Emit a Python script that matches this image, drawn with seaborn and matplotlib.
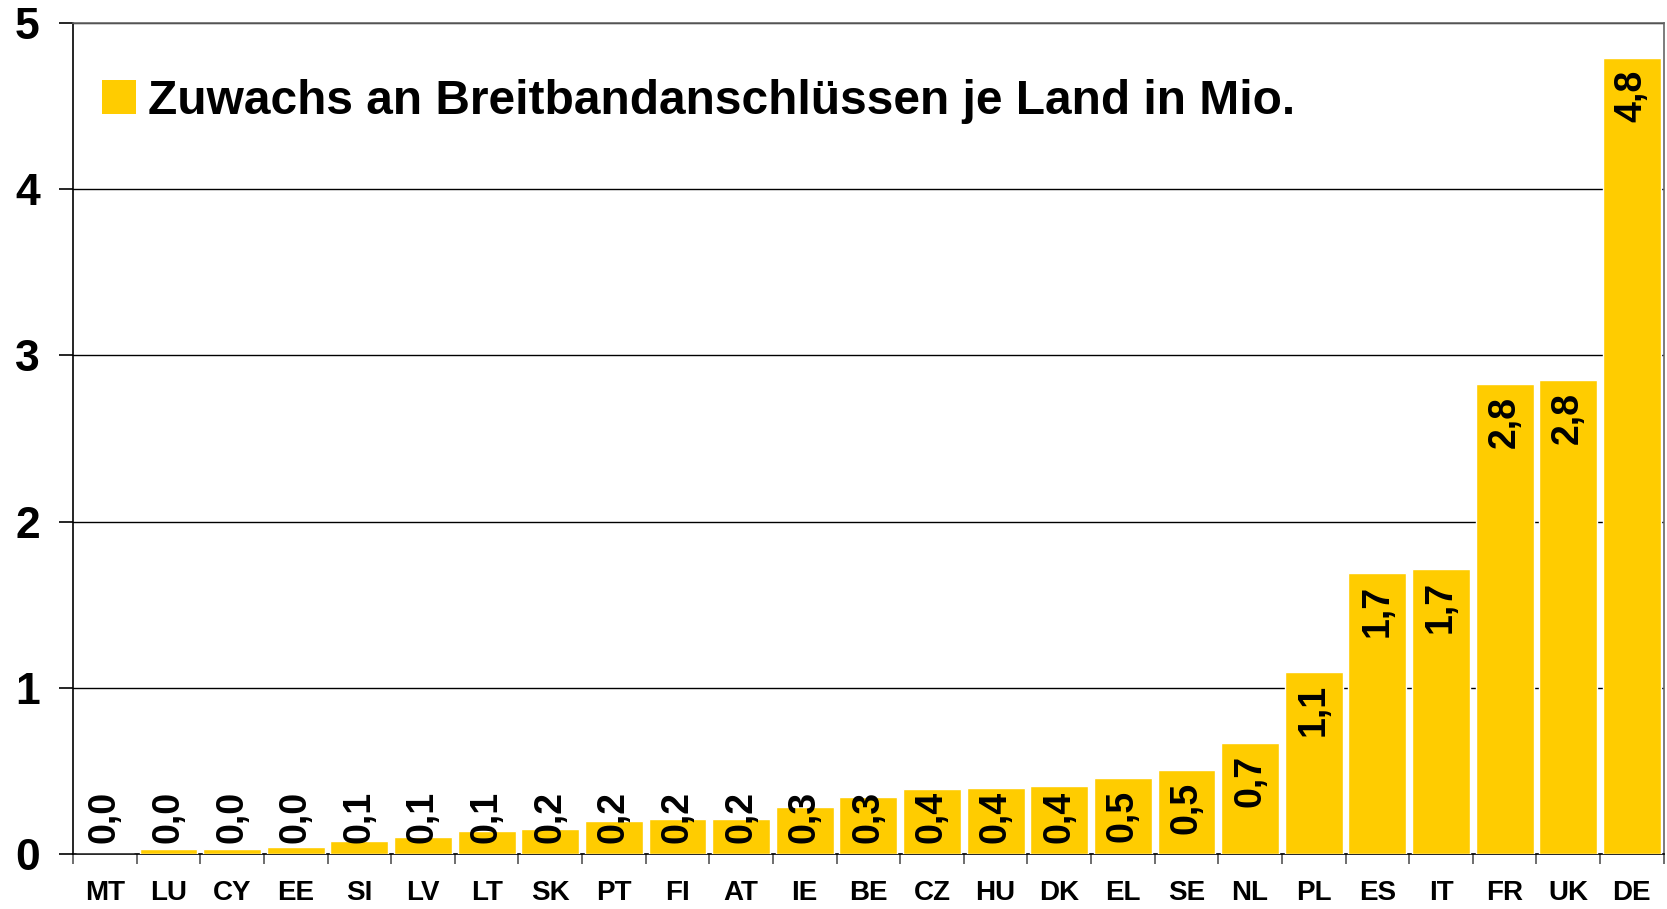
import pandas as pd
import numpy as np
import matplotlib
matplotlib.use("Agg")
import matplotlib.pyplot as plt
from matplotlib.patches import Patch
import seaborn as sns

# Country codes and broadband growth (millions)
countries = ["MT", "LU", "CY", "EE", "SI", "LV", "LT", "SK", "PT", "FI", "AT", "IE", "BE",
             "CZ", "HU", "DK", "EL", "SE", "NL", "PL", "ES", "IT", "FR", "UK", "DE"]
growth = [0.0, 0.03, 0.03, 0.045, 0.08, 0.10, 0.14, 0.15, 0.20, 0.21, 0.21, 0.28, 0.34,
          0.39, 0.40, 0.41, 0.46, 0.505, 0.67, 1.095, 1.69, 1.715, 2.83, 2.85, 4.79]
value_labels = ["0,0", "0,0", "0,0", "0,0", "0,1", "0,1", "0,1", "0,2", "0,2", "0,2", "0,2",
                "0,3", "0,3", "0,4", "0,4", "0,4", "0,5", "0,5", "0,7", "1,1", "1,7", "1,7",
                "2,8", "2,8", "4,8"]
y_ticks = [0, 1, 2, 3, 4, 5]
legend_label = "Zuwachs an Breitbandanschlüssen je Land in Mio."

BAR_COLOR = "#FFCC00"

df = pd.DataFrame({"country": countries, "growth": growth})

sns.set_style("white")
plt.rcParams["font.family"] = ["Liberation Sans", "DejaVu Sans"]
plt.rcParams["font.weight"] = "bold"
plt.rcParams["text.color"] = "black"
plt.rcParams["xtick.color"] = "black"
plt.rcParams["ytick.color"] = "black"

fig = plt.figure(figsize=(16.67, 9.09), dpi=100)
ax = fig.add_axes([0.0438, 0.0605, 0.998 - 0.0438, 0.9747 - 0.0605])

sns.barplot(data=df, x="country", y="growth", color=BAR_COLOR, saturation=1,
            width=0.91, ax=ax, zorder=3)

ax.set_xlim(-0.5, len(countries) - 0.5)
ax.set_ylim(0, 5)
ax.set_yticks(y_ticks)
ax.set_yticklabels([str(t) for t in y_ticks], fontsize=32, fontweight="bold")
ax.set_xlabel("")
ax.set_ylabel("")

# horizontal grid lines behind bars
ax.yaxis.grid(True, color="black", linewidth=1.0, zorder=0)
ax.set_axisbelow(True)

# spines
for side in ["left", "bottom"]:
    ax.spines[side].set_color("black")
    ax.spines[side].set_linewidth(1.2)
for side in ["top", "right"]:
    ax.spines[side].set_color("#666666")
    ax.spines[side].set_linewidth(1.2)

# y ticks outward
ax.tick_params(axis="y", left=True, length=10, width=1.2, color="black", pad=14,
               direction="out")
# x labels at centres, tick marks at category boundaries
ax.set_xticks(np.arange(len(countries)))
ax.set_xticklabels(countries, fontsize=20, fontweight="bold")
ax.tick_params(axis="x", which="major", bottom=True, length=0, pad=19)
ax.set_xticks(np.arange(len(countries) + 1) - 0.5, minor=True)
ax.tick_params(axis="x", which="minor", bottom=True, length=7, width=1.2,
               color="#555555", direction="out")

# value labels, rotated inside the top of each bar
px_per_unit = (0.9747 - 0.0605) * 909 / 5.0
pad_top = 12 / px_per_unit
text_len = 52 / px_per_unit
min_bottom = 11 / px_per_unit
for i, (v, lab) in enumerate(zip(growth, value_labels)):
    if v - pad_top - text_len >= min_bottom:
        ax.text(i, v - pad_top, lab, rotation=90, ha="center", va="top",
                fontsize=27, fontweight="bold", color="black", zorder=4)
    else:
        ax.text(i, min_bottom, lab, rotation=90, ha="center", va="bottom",
                fontsize=27, fontweight="bold", color="black", zorder=4)

# legend
handle = Patch(facecolor=BAR_COLOR, edgecolor="none")
ax.legend(handles=[handle], labels=[legend_label], loc="upper left",
          bbox_to_anchor=(-0.009, 0.985), frameon=False,
          prop={"size": 34.5, "weight": "bold"},
          handlelength=0.72, handleheight=0.72, handletextpad=0.25)

fig.savefig("out.png", dpi=100)
